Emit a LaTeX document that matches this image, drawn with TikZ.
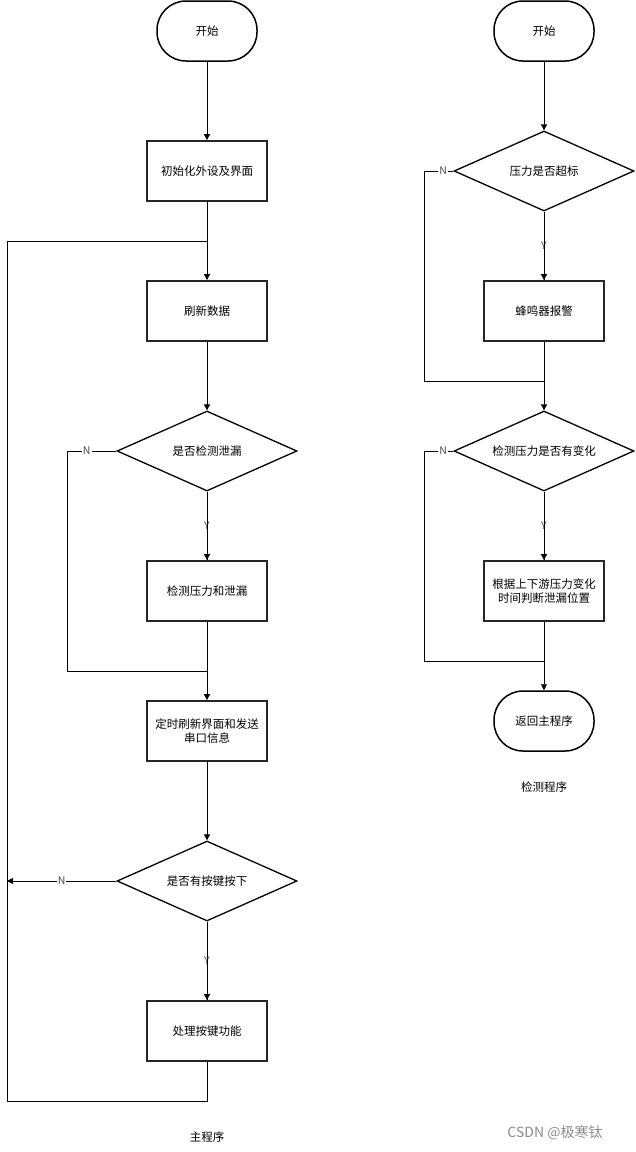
\documentclass[tikz,border=0pt]{standalone}
\usepackage{fontspec}
\setmainfont{Noto Sans CJK SC}
\usetikzlibrary{shapes.geometric,arrows.meta}
\begin{document}
\begin{tikzpicture}[x=1pt,y=-1pt,
  font=\fontsize{11.5}{14}\selectfont,
  term/.style={draw=black,line width=1.5pt,rounded corners=29pt,minimum width=100pt,minimum height=60pt,inner sep=0pt},
  procbox/.style={draw=black!85,line width=1.8pt,minimum width=120pt,minimum height=60pt,inner sep=2pt,align=center,text width=116pt},
  decision/.style={diamond,aspect=2.25,draw=black,line width=1.3pt,minimum width=180pt,minimum height=80pt,inner sep=0pt},
  conn/.style={draw=black,line width=0.9pt},
  arr/.style={conn,-{Triangle[length=6pt,width=6pt]}},
  lbl/.style={fill=white,inner sep=1pt,text=black!70,font=\fontsize{10.5}{12}\selectfont},
  caption/.style={font=\fontsize{11.5}{14}\selectfont}]
\useasboundingbox[fill=white] (0,0) rectangle (636,1152);
% main program
\node[term] (s1) at (207,31) {开始};
\node[procbox] (init) at (207,171) {初始化外设及界面};
\node[procbox] (refresh) at (207,311) {刷新数据};
\node[decision] (d1) at (207,451) {是否检测泄漏};
\node[procbox] (detect) at (207,591) {检测压力和泄漏};
\node[procbox] (timer) at (207,731) {定时刷新界面和发送\\串口信息};
\node[decision] (d2) at (207,881) {是否有按键按下};
\node[procbox] (keys) at (207,1031) {处理按键功能};
\node[caption] (t1) at (207,1137) {主程序};
\coordinate (j1) at (207,241);
\coordinate (j2) at (207,671);
\coordinate (lb) at (7,881);
\draw[arr] (s1) -- (init);
\draw[arr] (init) -- (refresh);
\draw[arr] (refresh.south) -- (d1.north);
\draw[conn] (d1.south) -- node[lbl,pos=0.5]{Y} (detect.north);
\draw[arr] (d1.south) -- (detect.north);
\draw[arr] (detect) -- (timer);
\draw[conn] (d1.west) -- node[lbl,pos=0.6]{N} (67,451) |- (j2);
\draw[arr] (timer) -- (d2);
\draw[conn] (d2.south) -- node[lbl,pos=0.5]{Y} (keys.north);
\draw[arr] (d2.south) -- (keys.north);
\draw[arr] (d2.west) -- node[lbl,pos=0.5]{N} (lb);
\draw[conn] (keys.south) -- (207,1101) -| (7,241) -- (j1);
% detection program
\node[term] (s2) at (544,31) {开始};
\node[decision] (d3) at (544,171) {压力是否超标};
\node[procbox] (buzz) at (544,311) {蜂鸣器报警};
\node[decision] (d4) at (544,451) {检测压力是否有变化};
\node[procbox] (judge) at (544,591) {根据上下游压力变化\\时间判断泄漏位置};
\node[term] (ret) at (544,721) {返回主程序};
\node[caption] (t2) at (544,787) {检测程序};
\coordinate (j3) at (544,381);
\coordinate (j4) at (544,661);
\draw[arr] (s2) -- (d3);
\draw[conn] (d3.south) -- node[lbl,pos=0.5]{Y} (buzz.north);
\draw[arr] (d3.south) -- (buzz.north);
\draw[arr] (buzz) -- (d4);
\draw[conn] (d3.west) -- node[lbl,pos=0.35]{N} (424,171) |- (j3);
\draw[conn] (d4.south) -- node[lbl,pos=0.5]{Y} (judge.north);
\draw[arr] (d4.south) -- (judge.north);
\draw[arr] (judge) -- (ret);
\draw[conn] (d4.west) -- node[lbl,pos=0.35]{N} (424,451) |- (j4);
% watermark
\node[text=black!45,font=\fontsize{14}{16}\selectfont] (wm) at (555,1133) {CSDN @极寒钛};
\end{tikzpicture}
\end{document}
